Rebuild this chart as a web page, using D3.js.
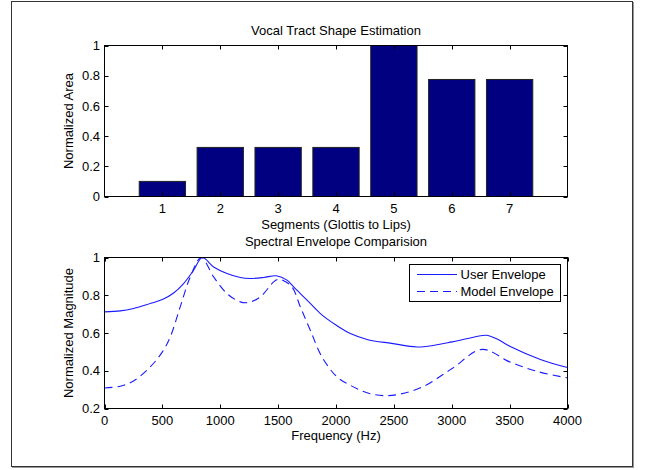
<!DOCTYPE html>
<html><head><meta charset="utf-8">
<script src="https://cdn.jsdelivr.net/npm/d3@7"></script>
<style>
html,body{margin:0;padding:0;background:#fff;}
svg{display:block;font-family:"Liberation Sans",Arial,Helvetica,sans-serif;}
</style></head>
<body>
<svg id="chart" width="648" height="470"></svg>
<script>
// ---- data ----
const segments = [1, 2, 3, 4, 5, 6, 7];
const areaValues = [0.1, 0.325, 0.325, 0.325, 1.0, 0.775, 0.775];
const segTicks = [1, 2, 3, 4, 5, 6, 7];
const areaTicks = [0, 0.2, 0.4, 0.6, 0.8, 1];

const userFreq = [0, 136, 251, 395, 500, 597, 683, 770, 845, 943, 1058, 1173, 1260, 1375, 1485, 1577, 1634, 1750, 1865, 2003, 2124, 2268, 2480, 2700, 2850, 3003, 3150, 3297, 3400, 3501, 3766, 4000];
const userMag  = [0.712, 0.717, 0.730, 0.756, 0.777, 0.812, 0.862, 0.933, 1.0, 0.950, 0.915, 0.894, 0.889, 0.894, 0.903, 0.880, 0.844, 0.774, 0.703, 0.641, 0.597, 0.566, 0.545, 0.526, 0.535, 0.553, 0.572, 0.588, 0.565, 0.530, 0.460, 0.417];

const modelFreq = [0, 136, 251, 395, 500, 568, 654, 741, 835, 943, 1058, 1173, 1245, 1346, 1461, 1500, 1540, 1620, 1692, 1778, 1879, 2009, 2124, 2268, 2420, 2550, 2750, 3003, 3262, 3501, 3752, 4000];
const modelMag  = [0.309, 0.318, 0.346, 0.420, 0.500, 0.579, 0.738, 0.897, 1.0, 0.897, 0.809, 0.765, 0.762, 0.791, 0.871, 0.885, 0.88, 0.844, 0.738, 0.615, 0.473, 0.367, 0.323, 0.283, 0.268, 0.276, 0.315, 0.412, 0.513, 0.447, 0.394, 0.362];

const freqTicks = [0, 500, 1000, 1500, 2000, 2500, 3000, 3500, 4000];
const magTicks = [0.2, 0.4, 0.6, 0.8, 1];

const seriesNames = ["User Envelope", "Model Envelope"];

// ---- layout ----
const svg = d3.select("#chart");
const FS = 13;
const fmt = d => String(d);

// figure frame
svg.append("rect").attr("x", 12.5).attr("y", 2.5).attr("width", 621).attr("height", 465)
  .attr("fill", "none").attr("stroke", "#999").attr("stroke-width", 1);
svg.append("rect").attr("x", 11.5).attr("y", 1.5).attr("width", 621).attr("height", 465)
  .attr("fill", "#fff").attr("stroke", "#333").attr("stroke-width", 1);

function drawAxesBox(g, x0, x1, y0, y1) {
  g.append("rect").attr("x", x0).attr("y", y0).attr("width", x1 - x0).attr("height", y1 - y0)
    .attr("fill", "none").attr("stroke", "#000").attr("stroke-width", 1);
}

function ticks(g, xs, ys, xTicks, yTicks, x0, x1, y0, y1) {
  const L = 4;
  xTicks.forEach(t => {
    const px = Math.round(xs(t)) + 0.5;
    g.append("line").attr("x1", px).attr("x2", px).attr("y1", y1).attr("y2", y1 - L).attr("stroke", "#000");
    g.append("line").attr("x1", px).attr("x2", px).attr("y1", y0).attr("y2", y0 + L).attr("stroke", "#000");
  });
  yTicks.forEach(t => {
    const py = Math.round(ys(t)) + 0.5;
    g.append("line").attr("x1", x0).attr("x2", x0 + L).attr("y1", py).attr("y2", py).attr("stroke", "#000");
    g.append("line").attr("x1", x1).attr("x2", x1 - L).attr("y1", py).attr("y2", py).attr("stroke", "#000");
  });
}

// ---- top: bar chart ----
{
  const x0 = 104.5, x1 = 567.5, y0 = 45.5, y1 = 196.5;
  const xs = d3.scaleLinear().domain([0, 8]).range([x0, x1]);
  const ys = d3.scaleLinear().domain([0, 1]).range([y1, y0]);
  const g = svg.append("g");
  const bw = (xs(1) - xs(0)) * 0.8;
  g.selectAll("rect.bar").data(segments).enter().append("rect")
    .attr("class", "bar")
    .attr("x", (d) => xs(d) - bw / 2)
    .attr("y", (d, i) => ys(areaValues[i]))
    .attr("width", bw)
    .attr("height", (d, i) => ys(0) - ys(areaValues[i]))
    .attr("fill", "#000080").attr("stroke", "#222").attr("stroke-width", 1);
  drawAxesBox(g, x0, x1, y0, y1);
  ticks(g, xs, ys, segTicks, areaTicks, x0, x1, y0, y1);
  segTicks.forEach(t => g.append("text").attr("x", xs(t)).attr("y", 213).attr("text-anchor", "middle")
    .attr("font-size", FS).text(fmt(t)));
  areaTicks.forEach(t => g.append("text").attr("x", 100).attr("y", ys(t) + 4.6).attr("text-anchor", "end")
    .attr("font-size", FS).text(fmt(t)));
  g.append("text").attr("x", (x0 + x1) / 2).attr("y", 35).attr("text-anchor", "middle")
    .attr("font-size", FS).text("Vocal Tract Shape Estimation");
  g.append("text").attr("x", (x0 + x1) / 2).attr("y", 229).attr("text-anchor", "middle")
    .attr("font-size", FS).text("Segments (Glottis to Lips)");
  g.append("text").attr("transform", `translate(73,${(y0 + y1) / 2}) rotate(-90)`).attr("text-anchor", "middle")
    .attr("font-size", FS).text("Normalized Area");
}

// ---- bottom: spectral envelopes ----
{
  const x0 = 104.5, x1 = 567.5, y0 = 257.5, y1 = 408.5;
  const xs = d3.scaleLinear().domain([0, 4000]).range([x0, x1]);
  const ys = d3.scaleLinear().domain([0.2, 1]).range([y1, y0]);
  const g = svg.append("g");
  svg.append("clipPath").attr("id", "clipB").append("rect")
    .attr("x", x0).attr("y", y0 - 1).attr("width", x1 - x0).attr("height", y1 - y0 + 1);
  const line = d3.line().x(d => xs(d[0])).y(d => ys(d[1])).curve(d3.curveCatmullRom.alpha(0.5));
  const userPts = userFreq.map((f, i) => [f, userMag[i]]);
  const modelPts = modelFreq.map((f, i) => [f, modelMag[i]]);
  const lg = g.append("g").attr("clip-path", "url(#clipB)");
  lg.append("path").attr("d", line(userPts)).attr("fill", "none").attr("stroke", "#1a1aff").attr("stroke-width", 1.1);
  lg.append("path").attr("d", line(modelPts)).attr("fill", "none").attr("stroke", "#1a1aff").attr("stroke-width", 1.1)
    .attr("stroke-dasharray", "8,5");
  drawAxesBox(g, x0, x1, y0, y1);
  ticks(g, xs, ys, freqTicks, magTicks, x0, x1, y0, y1);
  freqTicks.forEach(t => g.append("text").attr("x", xs(t)).attr("y", 425).attr("text-anchor", "middle")
    .attr("font-size", FS).text(fmt(t)));
  magTicks.forEach(t => g.append("text").attr("x", 100).attr("y", ys(t) + 4.6).attr("text-anchor", "end")
    .attr("font-size", FS).text(fmt(t)));
  g.append("text").attr("x", (x0 + x1) / 2).attr("y", 246).attr("text-anchor", "middle")
    .attr("font-size", FS).text("Spectral Envelope Comparision");
  g.append("text").attr("x", (x0 + x1) / 2).attr("y", 439.5).attr("text-anchor", "middle")
    .attr("font-size", FS).text("Frequency (Hz)");
  g.append("text").attr("transform", `translate(73,${(y0 + y1) / 2}) rotate(-90)`).attr("text-anchor", "middle")
    .attr("font-size", FS).text("Normalized Magnitude");

  // legend
  const lgd = g.append("g");
  lgd.append("rect").attr("x", 409.5).attr("y", 264.5).attr("width", 151).attr("height", 37)
    .attr("fill", "#fff").attr("stroke", "#000");
  const rowsY = [274.5, 291.5];
  seriesNames.forEach((n, i) => {
    lgd.append("line").attr("x1", 417).attr("x2", 457).attr("y1", rowsY[i]).attr("y2", rowsY[i])
      .attr("stroke", "#1a1aff").attr("stroke-width", 1.1)
      .attr("stroke-dasharray", i === 1 ? "8,5" : null);
    lgd.append("text").attr("x", 460.5).attr("y", rowsY[i] + 4.6).attr("font-size", FS).text(n);
  });
}
</script>
</body></html>
